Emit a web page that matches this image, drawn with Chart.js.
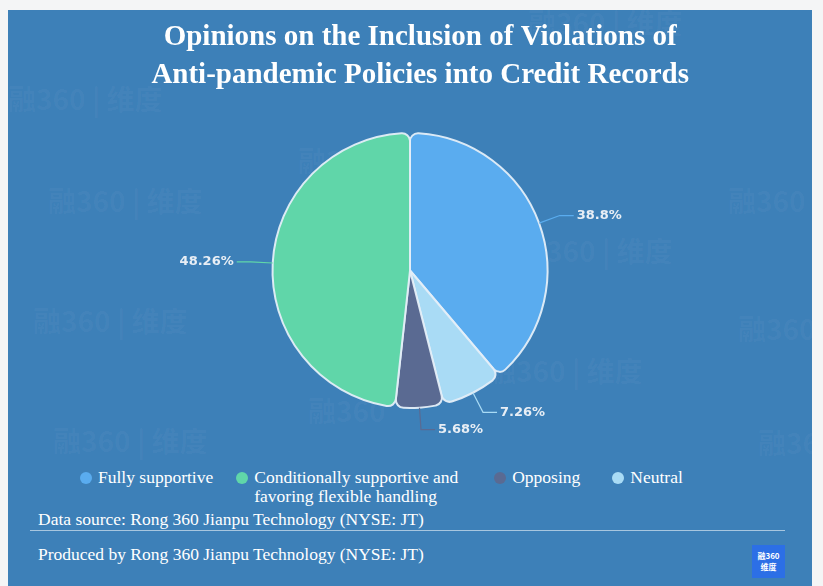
<!DOCTYPE html>
<html>
<head>
<meta charset="utf-8">
<script src="https://cdn.jsdelivr.net/npm/chart.js@4.4.1/dist/chart.umd.min.js"></script>
<style>
  html, body { margin: 0; padding: 0; background: #f4f5f6; }
  body { width: 823px; height: 586px; position: relative; overflow: hidden; }
  #panel { position: absolute; left: 8px; top: 10px; width: 804px; height: 576px; background: #3d80b8; overflow: hidden; }
  #chart { position: absolute; left: 0; top: 0; }
  .wm { position: absolute; color: rgba(255,255,255,0.04); font: bold 28px "Noto Sans CJK SC", sans-serif; white-space: nowrap; }
  #legend { position: absolute; top: 458px; left: 72px; display: flex; align-items: flex-start;
            font: 17.5px "Liberation Serif", "Times New Roman", serif; color: #fff; }
  .item { display: flex; align-items: flex-start; }
  .dot { width: 12px; height: 12px; border-radius: 50%; margin: 4px 6px 0 0; flex: none; }
  .txt { line-height: 19px; }
  .foot { position: absolute; left: 30px; font: 17.5px "Liberation Serif", "Times New Roman", serif; color: #fff; }
  #rule { position: absolute; left: 22px; top: 520px; width: 755px; height: 1px; background: #a7c6df; }
  #logo { position: absolute; left: 744px; top: 535px; width: 33px; height: 33px; background: #2c6fe6;
          color: #fff; font: bold 8px "Noto Sans CJK SC", sans-serif; text-align: center; line-height: 11px; padding-top: 5px; box-sizing: border-box; }
</style>
</head>
<body>
<div id="panel">
  <div class="wm" style="left:520px;top:-8px">融360 | 维度</div>
  <div class="wm" style="left:0px;top:68px">融360 | 维度</div>
  <div class="wm" style="left:290px;top:130px">融360</div>
  <div class="wm" style="left:40px;top:170px">融360 | 维度</div>
  <div class="wm" style="left:720px;top:170px">融360</div>
  <div class="wm" style="left:510px;top:220px">融360 | 维度</div>
  <div class="wm" style="left:25px;top:290px">融360 | 维度</div>
  <div class="wm" style="left:730px;top:298px">融360</div>
  <div class="wm" style="left:480px;top:340px">融360 | 维度</div>
  <div class="wm" style="left:300px;top:380px">融360</div>
  <div class="wm" style="left:45px;top:410px">融360 | 维度</div>
  <div class="wm" style="left:750px;top:412px">融360</div>
  <canvas id="chart" width="804" height="450"></canvas>
  <div id="legend"></div>
  <div class="foot" style="top:499px">Data source: Rong 360 Jianpu Technology (NYSE: JT)</div>
  <div id="rule"></div>
  <div class="foot" style="top:534px">Produced by Rong 360 Jianpu Technology (NYSE: JT)</div>
  <div id="logo">融360<br>维度</div>
</div>
<script>
// drawing order is clockwise from 12 o'clock
const categories = ['Fully supportive', 'Neutral', 'Opposing', 'Conditionally supportive and favoring flexible handling'];
const shares = [38.8, 7.26, 5.68, 48.26];
const shareLabels = ['38.8%', '7.26%', '5.68%', '48.26%'];
const sliceColors = ['#5aacef', '#a9dbf5', '#5a6a92', '#60d6a9'];
// legend order as printed under the chart
const legendOrder = [0, 3, 2, 1];
const legendText = ['Fully supportive', 'Conditionally supportive and favoring flexible handling', 'Opposing', 'Neutral'];

const titleLines = ['Opinions on the Inclusion of Violations of', 'Anti-pandemic Policies into Credit Records'];

// html legend
const legend = document.getElementById('legend');
const gaps = [23, 32, 32, 0];
legendOrder.forEach((idx, i) => {
  const item = document.createElement('div');
  item.className = 'item';
  item.style.marginRight = gaps[i] + 'px';
  const dot = document.createElement('span');
  dot.className = 'dot';
  dot.style.background = sliceColors[idx];
  const t = document.createElement('span');
  t.className = 'txt';
  t.textContent = legendText[i];
  if (i === 1) t.style.width = '208px';
  item.appendChild(dot);
  item.appendChild(t);
  legend.appendChild(item);
});

// leader lines + percentage labels
const leaderLabels = {
  id: 'leaderLabels',
  afterDatasetsDraw(chart) {
    const ctx = chart.ctx;
    const meta = chart.getDatasetMeta(0);
    ctx.save();
    meta.data.forEach((arc, i) => {
      const { x, y, startAngle, endAngle, outerRadius } = arc.getProps(['x', 'y', 'startAngle', 'endAngle', 'outerRadius'], true);
      const mid = (startAngle + endAngle) / 2;
      const cos = Math.cos(mid), sin = Math.sin(mid);
      const x0 = x + outerRadius * cos, y0 = y + outerRadius * sin;
      const x1 = x + (outerRadius + 22) * cos, y1 = y + (outerRadius + 22) * sin;
      const dir = cos >= 0 ? 1 : -1;
      const x2 = x1 + dir * 14;
      ctx.strokeStyle = sliceColors[i];
      ctx.lineWidth = 1.2;
      ctx.beginPath();
      ctx.moveTo(x0, y0);
      ctx.lineTo(x1, y1);
      ctx.lineTo(x2, y1);
      ctx.stroke();
      ctx.fillStyle = '#e8eef5';
      ctx.font = 'bold 13px "DejaVu Sans", sans-serif';
      ctx.textBaseline = 'middle';
      ctx.textAlign = dir > 0 ? 'left' : 'right';
      ctx.fillText(shareLabels[i], x2 + dir * 3, y1);
    });
    ctx.restore();
  }
};

new Chart(document.getElementById('chart'), {
  type: 'pie',
  data: {
    labels: categories,
    datasets: [{
      data: shares,
      backgroundColor: sliceColors,
      borderColor: 'rgba(228,238,248,0.95)',
      borderWidth: 2,
      borderRadius: 8,
      hoverOffset: 0
    }]
  },
  options: {
    responsive: false,
    animation: false,
    layout: { padding: { top: 0, bottom: 51, left: 0, right: 0 } },
    plugins: {
      legend: { display: false },
      tooltip: { enabled: false },
      title: {
        display: true,
        // leading spaces nudge the centred title a little to the right, as in the source
        text: titleLines.map(l => '\u2002\u2009' + l),
        color: '#ffffff',
        font: { family: '"Liberation Serif", "Times New Roman", serif', size: 29, weight: 'bold', lineHeight: 38 / 29 },
        padding: { top: 9, bottom: 37 }
      }
    }
  },
  plugins: [leaderLabels]
});
</script>
</body>
</html>
